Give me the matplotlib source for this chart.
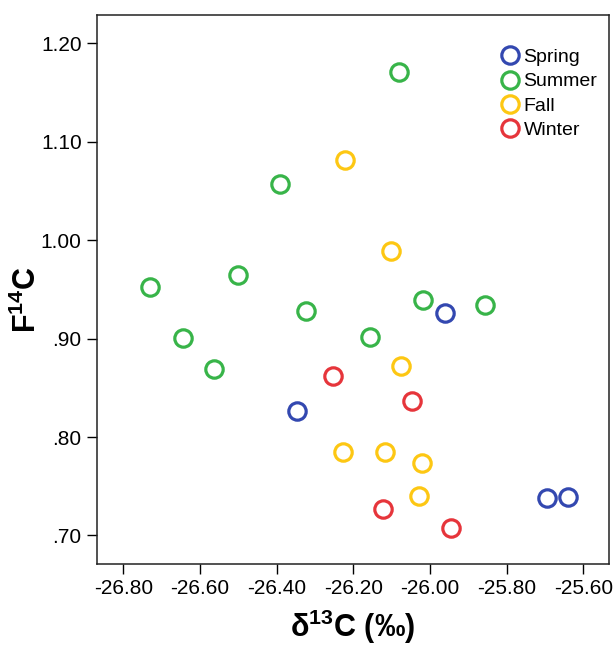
import matplotlib
matplotlib.use("Agg")
import matplotlib.pyplot as plt

plt.rcParams['font.family'] = ['Liberation Sans', 'DejaVu Sans']
plt.rcParams['mathtext.fontset'] = 'custom'
plt.rcParams['mathtext.rm'] = 'Liberation Sans'
plt.rcParams['mathtext.bf'] = 'Liberation Sans:bold'
plt.rcParams['mathtext.default'] = 'bf'

# delta13C (permil) and F14C per season
spring_d13c = [-25.961, -26.347, -25.694, -25.640]
spring_f14c = [0.926, 0.826, 0.738, 0.739]

summer_d13c = [-26.081, -26.391, -26.501, -26.732, -26.323, -26.018, -25.857, -26.157, -26.644, -26.564]
summer_f14c = [1.171, 1.057, 0.965, 0.952, 0.928, 0.939, 0.934, 0.902, 0.901, 0.869]

fall_d13c = [-26.221, -26.102, -26.076, -26.228, -26.118, -26.020, -26.030]
fall_f14c = [1.081, 0.989, 0.872, 0.785, 0.785, 0.774, 0.740]

winter_d13c = [-26.253, -26.047, -26.124, -25.946]
winter_f14c = [0.862, 0.837, 0.727, 0.708]

seasons = ['Spring', 'Summer', 'Fall', 'Winter']
colors = ['#3348b0', '#38b449', '#fdc713', '#e6353b']

fig = plt.figure(figsize=(6.14, 6.46), dpi=100)
ax = fig.add_axes([0.158, 0.127, 0.834, 0.850])

data = [(spring_d13c, spring_f14c), (summer_d13c, summer_f14c),
        (fall_d13c, fall_f14c), (winter_d13c, winter_f14c)]
for (xs, ys), name, c in zip(data, seasons, colors):
    ax.plot(xs, ys, linestyle='none', marker='o', markersize=12.5,
            markerfacecolor='none', markeredgecolor=c, markeredgewidth=2.3,
            label=name)

ax.set_xlim(-26.869, -25.533)
ax.set_ylim(0.671, 1.229)

xticks = [-26.80, -26.60, -26.40, -26.20, -26.00, -25.80, -25.60]
yticks = [0.70, 0.80, 0.90, 1.00, 1.10, 1.20]
ax.set_xticks(xticks)
ax.set_xticklabels([f'{v:.2f}' for v in xticks])
ax.set_yticks(yticks)
ax.set_yticklabels([f'{v:.2f}'.lstrip('0') if v < 1 else f'{v:.2f}' for v in yticks])

ax.tick_params(direction='out', length=7, width=1, labelsize=15, pad=4)
for sp in ax.spines.values():
    sp.set_linewidth(1.1)
    sp.set_color('#222222')

ax.set_xlabel('δ$^{13}$C (‰)', fontsize=22, fontweight='bold', labelpad=7)
ax.set_ylabel('F$^{14}$C', fontsize=22, fontweight='bold')
ax.yaxis.set_label_coords(-0.105, 0.481)

leg = ax.legend(loc='upper right', frameon=False, fontsize=14,
                handletextpad=0.1, labelspacing=0.34, borderaxespad=0.2,
                bbox_to_anchor=(1.0, 0.96), handlelength=1.2)

fig.savefig('out.png', dpi=100)
